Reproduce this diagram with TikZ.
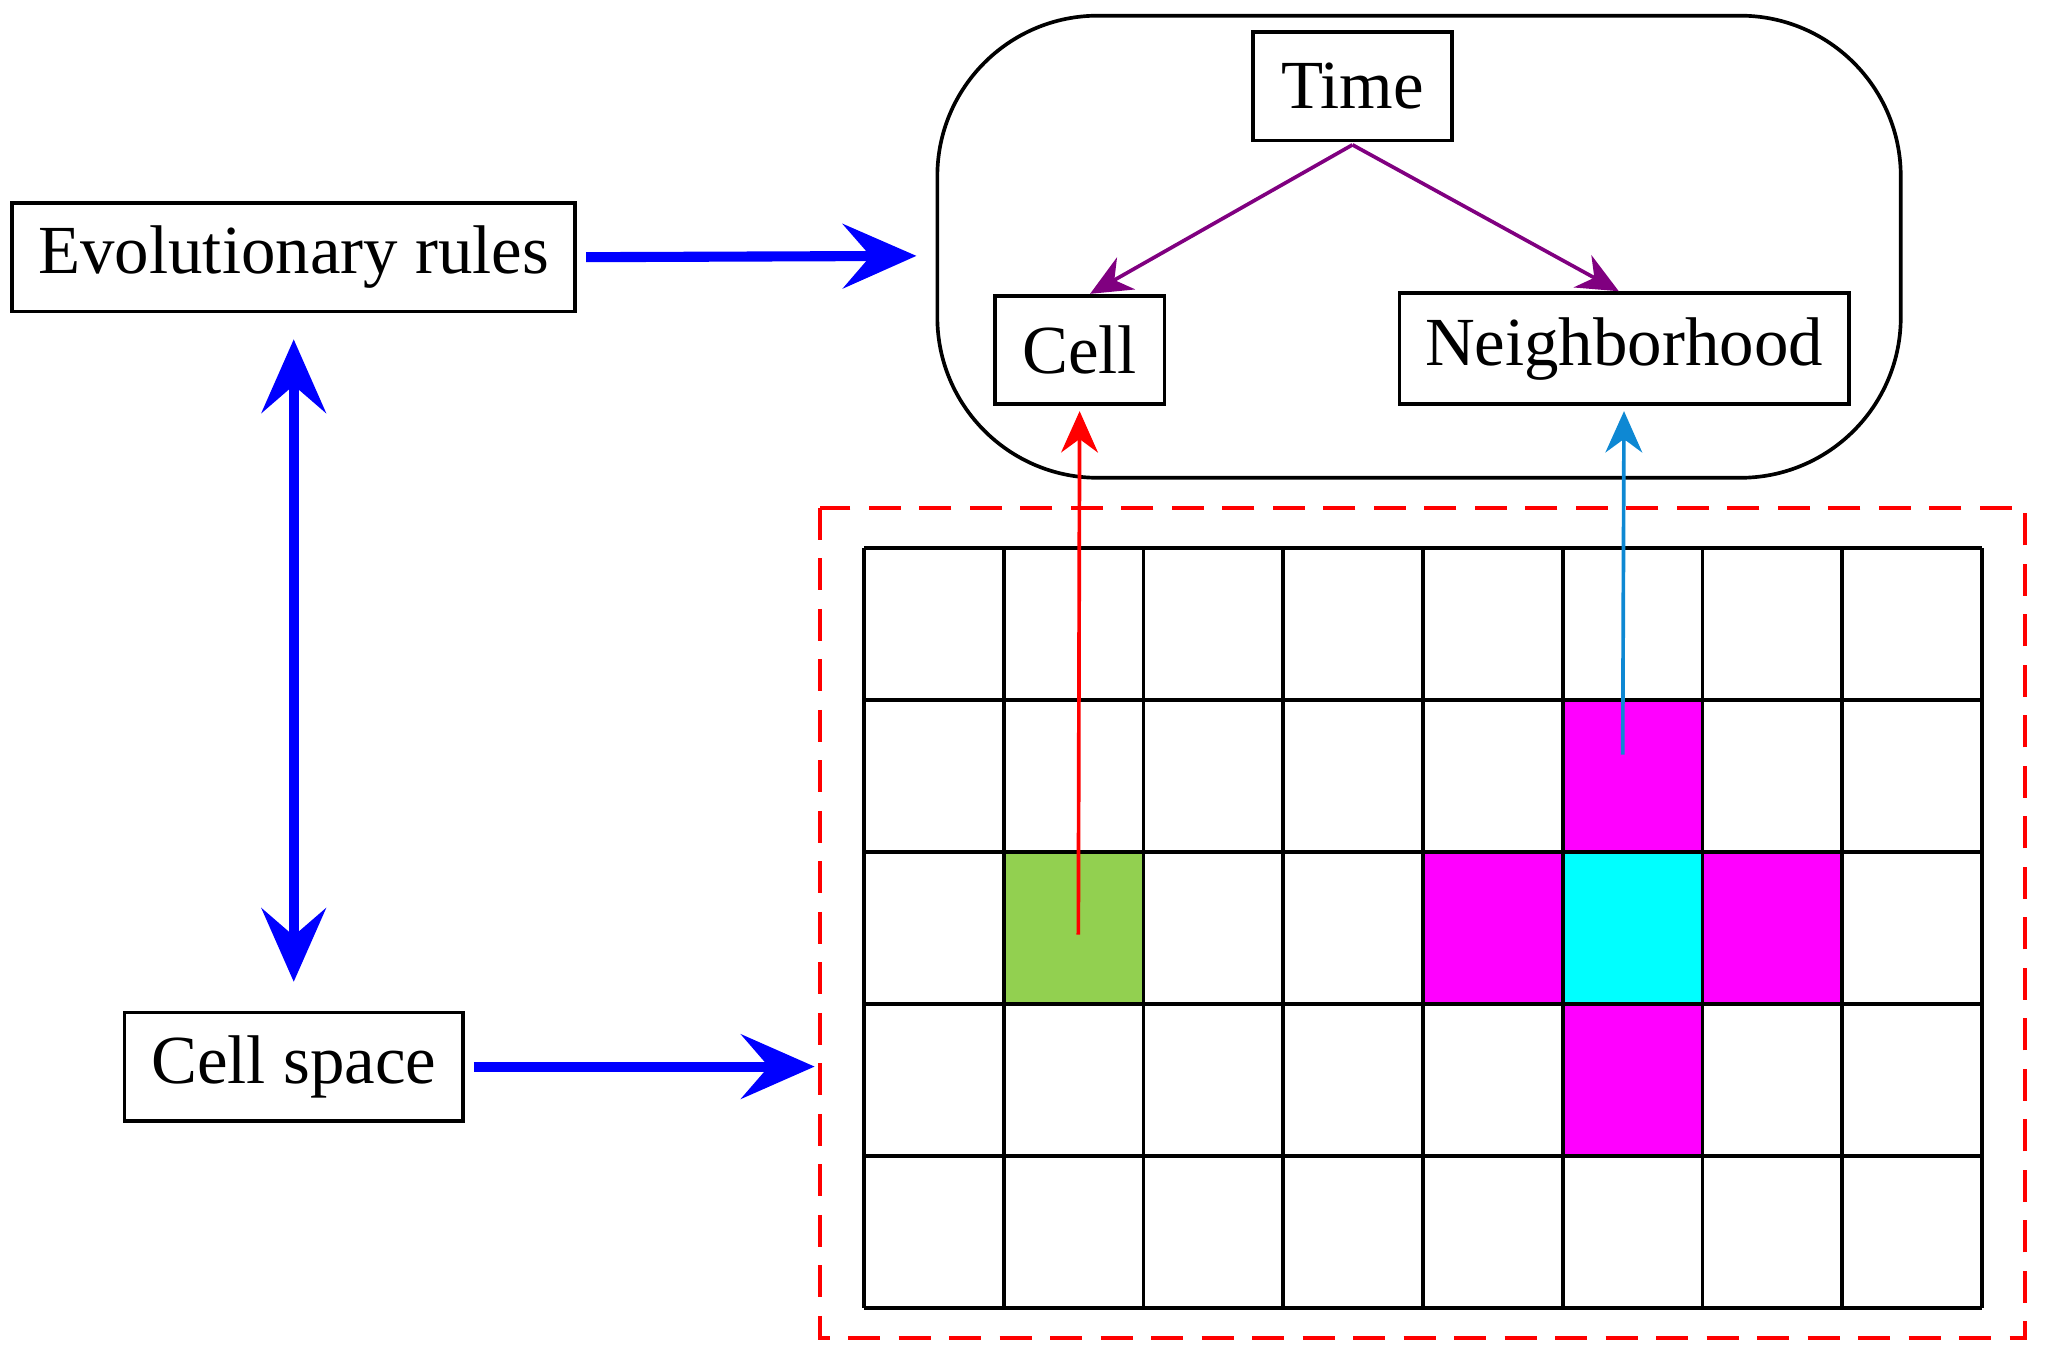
\documentclass[tikz,border=0pt]{standalone}
\usepackage{fontspec}
\setmainfont{Liberation Serif}
\usetikzlibrary{arrows.meta,positioning}
\definecolor{cellgreen}{RGB}{146,208,80}
\definecolor{pinkcell}{RGB}{255,0,255}
\definecolor{centercell}{RGB}{0,255,255}
\begin{document}
\begin{tikzpicture}[
            x=0.01cm, y=-0.01cm,
            box/.style={draw, thick, font=\fontsize{15}{17}\selectfont, inner sep=0pt},
            bigarrow/.style={blue, line width=2.2pt, -{Stealth[length=16pt,width=14pt,inset=6pt]}},
            thinarrow/.style={line width=0.8pt, -{Stealth[length=9pt,width=8pt]}},
            ]
            \useasboundingbox (0,0) rectangle (1568,1042);
            % outer frames
            \draw[rounded corners=35pt, thick] (718,12) rectangle (1456,366);
            \draw[red, thick, dash pattern=on 7pt off 4pt] (628,389) rectangle (1551,1025);
            % boxes
            \node[box, minimum width=4.31cm, minimum height=0.83cm] (rules) at (225,197) {Evolutionary rules};
            \node[box, minimum width=2.59cm, minimum height=0.83cm] (space) at (225,817) {Cell space};
            \node[box, minimum width=1.52cm, minimum height=0.83cm] (time) at (1036,66) {Time};
            \node[box, minimum width=1.30cm, minimum height=0.83cm] (cell) at (827,268) {Cell};
            \node[box, minimum width=3.44cm, minimum height=0.85cm] (neigh) at (1244,267) {Neighborhood};
            % coloured cells
            \fill[cellgreen] (769,653) rectangle (876,769);
            \fill[pinkcell] (1197,537) rectangle (1304,653);
            \fill[pinkcell] (1090,653) rectangle (1197,769);
            \fill[pinkcell] (1304,653) rectangle (1411,769);
            \fill[pinkcell] (1197,769) rectangle (1304,885);
            \fill[centercell] (1197,653) rectangle (1304,769);
            % grid
            \foreach \i in {0,...,8}
              \draw[thick] (662+107*\i,420) -- (662+107*\i,1002);
            \foreach \j in {0,...,5}
              \draw[thick] (662,420+116.4*\j) -- (1518,420+116.4*\j);
            \coordinate (gridleft) at (624,817);
            \coordinate (frameleft) at (702,196);
            \coordinate (green) at (826,716);
            \coordinate (mag) at (1243,578);
            % connectors
            \draw[bigarrow] ([xshift=0.07cm]rules.east) -- (frameleft);
            \draw[bigarrow] ([xshift=0.07cm]space.east) -- (gridleft);
            \draw[bigarrow, {Stealth[length=16pt,width=14pt,inset=6pt]}-{Stealth[length=16pt,width=14pt,inset=6pt]}] ([yshift=-0.2cm]rules.south) -- ([yshift=0.22cm]space.north);
            \draw[thinarrow, violet] ([yshift=-0.02cm]time.south) -- ([xshift=0.08cm]cell.north);
            \draw[thinarrow, violet] ([yshift=-0.02cm]time.south) -- ([xshift=-0.04cm]neigh.north);
            \draw[thinarrow, red] (green) -- ([yshift=-0.04cm]cell.south);
            \draw[thinarrow, cyan!70!blue] (mag) -- ([yshift=-0.04cm]neigh.south);
\end{tikzpicture}
\end{document}
